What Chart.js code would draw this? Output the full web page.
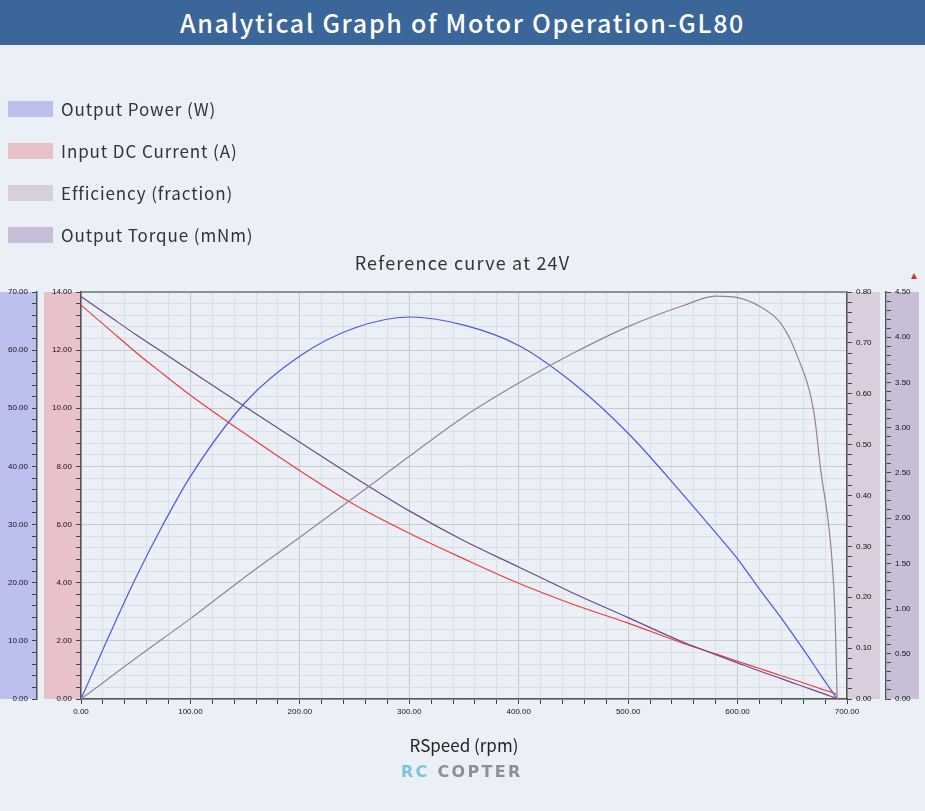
<!DOCTYPE html>
<html>
<head>
<meta charset="utf-8">
<script src="https://cdn.jsdelivr.net/npm/chart.js@4.4.1/dist/chart.umd.min.js"></script>
<style>
  body { margin: 0; width: 925px; height: 811px; background: #ebf0f7; overflow: hidden; position: relative;
         font-family: "Noto Sans CJK JP", "Noto Sans", sans-serif; }
  #chart { position: absolute; left: 0; top: 0; }
  .header { position: absolute; left: 0; top: 0; width: 925px; height: 45px; background: #3b6699;
            color: #fff; font-size: 25px; font-weight: 500; letter-spacing: 1.7px; text-align: center; line-height: 44px; }
  .legend { position: absolute; left: 8px; top: 0; color: #333; font-size: 17px; letter-spacing: 0.9px; }
  .legend .item { position: absolute; left: 0; height: 16px; white-space: nowrap; }
  .legend .sw { position: absolute; left: 0; top: 0; width: 45px; height: 16px; }
  .legend .lbl { position: absolute; left: 53px; top: -5px; line-height: 26px; }
  .marker { position: absolute; left: 911px; top: 273px; width: 0; height: 0;
            border-left: 3px solid transparent; border-right: 3px solid transparent; border-bottom: 6px solid #c0392b; }
  .logo { position: absolute; left: 401px; top: 762px; font-family: "DejaVu Sans", sans-serif; font-weight: bold;
          font-size: 16px; letter-spacing: 2.3px; color: #8b9096; }
  .logo span { color: #7cc4dc; }
</style>
</head>
<body>
<canvas id="chart" width="925" height="811"></canvas>
<div class="header">Analytical Graph of Motor Operation-GL80</div>
<div class="legend" id="legend"></div>
<div class="marker"></div>
<div class="logo"><span>RC</span> COPTER</div>
<script>
// speed samples (rpm)
const rpm = [0, 25, 50, 75, 100, 150, 200, 250, 300, 350, 400, 450, 500, 550, 580, 600, 620, 640, 655, 670, 676, 683, 686, 689, 691];
// series
const outputPower = [0, 10.6, 20.8, 30.0, 38.3, 51.0, 59.0, 63.8, 65.7, 64.3, 60.8, 54.3, 45.7, 35.2, 28.6, 24.1, 18.9, 13.9, 9.9, 5.8, 4.1, 2.2, 1.4, 0.6, 0];
const inputCurrent = [13.55, 12.74, 11.93, 11.18, 10.45, 9.12, 7.85, 6.68, 5.70, 4.82, 3.98, 3.25, 2.61, 1.92, 1.55, 1.30, 1.05, 0.80, 0.62, 0.43, 0.35, 0.27, 0.23, 0.19, 0.16];
const efficiency = [0, 0.040, 0.080, 0.119, 0.158, 0.240, 0.318, 0.397, 0.477, 0.555, 0.621, 0.680, 0.732, 0.773, 0.792, 0.789, 0.772, 0.737, 0.672, 0.560, 0.450, 0.346, 0.280, 0.170, 0];
const outputTorque = [4.45, 4.24, 4.03, 3.83, 3.63, 3.23, 2.84, 2.45, 2.08, 1.75, 1.46, 1.17, 0.90, 0.63, 0.49, 0.40, 0.31, 0.225, 0.16, 0.095, 0.07, 0.04, 0.027, 0.013, 0.005];

const seriesNames = ["Output Power (W)", "Input DC Current (A)", "Efficiency (fraction)", "Output Torque (mNm)"];
const lineColors = ["#5252ee", "#ee3b3b", "#9f7c9c", "#72468c"];
const bandColors = ["#bcc0ee", "#e9c1c9", "#d9cedd", "#c9bed7"];

// html legend
const legend = document.getElementById("legend");
seriesNames.forEach((name, i) => {
  const it = document.createElement("div");
  it.className = "item";
  it.style.top = (101 + i * 42) + "px";
  it.innerHTML = '<div class="sw" style="background:' + bandColors[i] + '"></div><div class="lbl">' + name + '</div>';
  legend.appendChild(it);
});

const pts = ys => rpm.map((x, i) => ({ x: x, y: ys[i] }));
const isMult = (v, m) => Math.abs(v / m - Math.round(v / m)) < 1e-6;
const tickFont = { family: "Liberation Sans, Arial, sans-serif", size: 8 };

function yAxis(pos, weight, max, step, major, width, grid) {
  return {
    type: "linear", position: pos, weight: weight, min: 0, max: max,
    ticks: {
      stepSize: step, autoSkip: false, font: tickFont, color: "#111", padding: 4,
      callback: v => isMult(v, major) ? v.toFixed(2) : ""
    },
    grid: {
      drawOnChartArea: grid, tickLength: 5, tickColor: "#444", lineWidth: 1,
      color: c => (c.tick && isMult(c.tick.value, major)) ? "#c6cad3" : "#d9dfe8"
    },
    border: { color: "#555", width: 1.5 },
    afterFit: s => { s.width = width; }
  };
}

const bands = {
  id: "bands",
  afterInit(chart) {
    // subtitle is drawn a little spaced out, like the reference
    const t = chart.titleBlock;
    const draw = t.draw.bind(t);
    t.draw = function () {
      chart.ctx.save();
      chart.ctx.letterSpacing = "1.2px";
      draw();
      chart.ctx.restore();
    };
  },
  beforeDraw(chart) {
    const { ctx, chartArea, scales } = chart;
    const h = chartArea.bottom - chartArea.top;
    ctx.save();
    ctx.fillStyle = bandColors[0];
    ctx.fillRect(scales.yPower.right - 37, chartArea.top, 37, h);
    ctx.fillStyle = bandColors[1];
    ctx.fillRect(scales.yCurrent.right - 37, chartArea.top, 37, h);
    ctx.fillStyle = bandColors[2];
    ctx.fillRect(scales.yEff.left + 1, chartArea.top, 32, h);
    ctx.fillStyle = bandColors[3];
    ctx.fillRect(scales.yTorque.left + 1, chartArea.top, 32, h);
    ctx.restore();
  },
  afterDraw(chart) {
    const { ctx, chartArea } = chart;
    ctx.save();
    ctx.strokeStyle = "#777";
    ctx.lineWidth = 1.5;
    ctx.beginPath();
    ctx.moveTo(chartArea.left, chartArea.top);
    ctx.lineTo(chartArea.right, chartArea.top);
    ctx.stroke();
    ctx.restore();
  }
};

const ds = (i, data, axis) => ({
  label: seriesNames[i], data: pts(data), yAxisID: axis,
  borderColor: lineColors[i], backgroundColor: lineColors[i],
  borderWidth: 1.2, pointRadius: 0, cubicInterpolationMode: "monotone", fill: false
});

new Chart(document.getElementById("chart"), {
  type: "line",
  data: {
    datasets: [
      ds(2, efficiency, "yEff"),
      ds(3, outputTorque, "yTorque"),
      ds(1, inputCurrent, "yCurrent"),
      ds(0, outputPower, "yPower")
    ]
  },
  options: {
    responsive: false,
    animation: false,
    layout: { padding: { top: 0, left: 0, right: 0, bottom: 55 } },
    plugins: {
      legend: { display: false },
      tooltip: { enabled: false },
      title: {
        display: true, text: "Reference curve at 24V", color: "#333",
        font: { family: "Noto Sans CJK JP, Noto Sans, sans-serif", size: 18, weight: "normal" },
        padding: { top: 252.2, bottom: 18.2 }
      }
    },
    scales: {
      x: {
        type: "linear", min: 0, max: 700,
        ticks: {
          stepSize: 20, autoSkip: false, maxRotation: 0, font: tickFont, color: "#111", padding: 3,
          callback: v => isMult(v, 100) ? v.toFixed(2) : ""
        },
        grid: {
          tickLength: 5, tickColor: "#444",
          color: c => (c.tick && isMult(c.tick.value, 100)) ? "#c6cad3" : "#d9dfe8"
        },
        border: { color: "#555", width: 1.5 },
        title: {
          display: true, text: "RSpeed (rpm)", color: "#222", padding: 0,
          font: { family: "Noto Sans CJK JP, Noto Sans, sans-serif", size: 17 }
        },
        afterFit: s => { s.height = 57; }
      },
      yCurrent: yAxis("left", 0, 14, 0.4, 2, 44, true),
      yPower: yAxis("left", 1, 70, 2, 10, 37, false),
      yEff: yAxis("right", 0, 0.8, 0.02, 0.1, 39, false),
      yTorque: yAxis("right", 1, 4.5, 0.1, 0.5, 39, false)
    }
  },
  plugins: [bands]
});
</script>
</body>
</html>
